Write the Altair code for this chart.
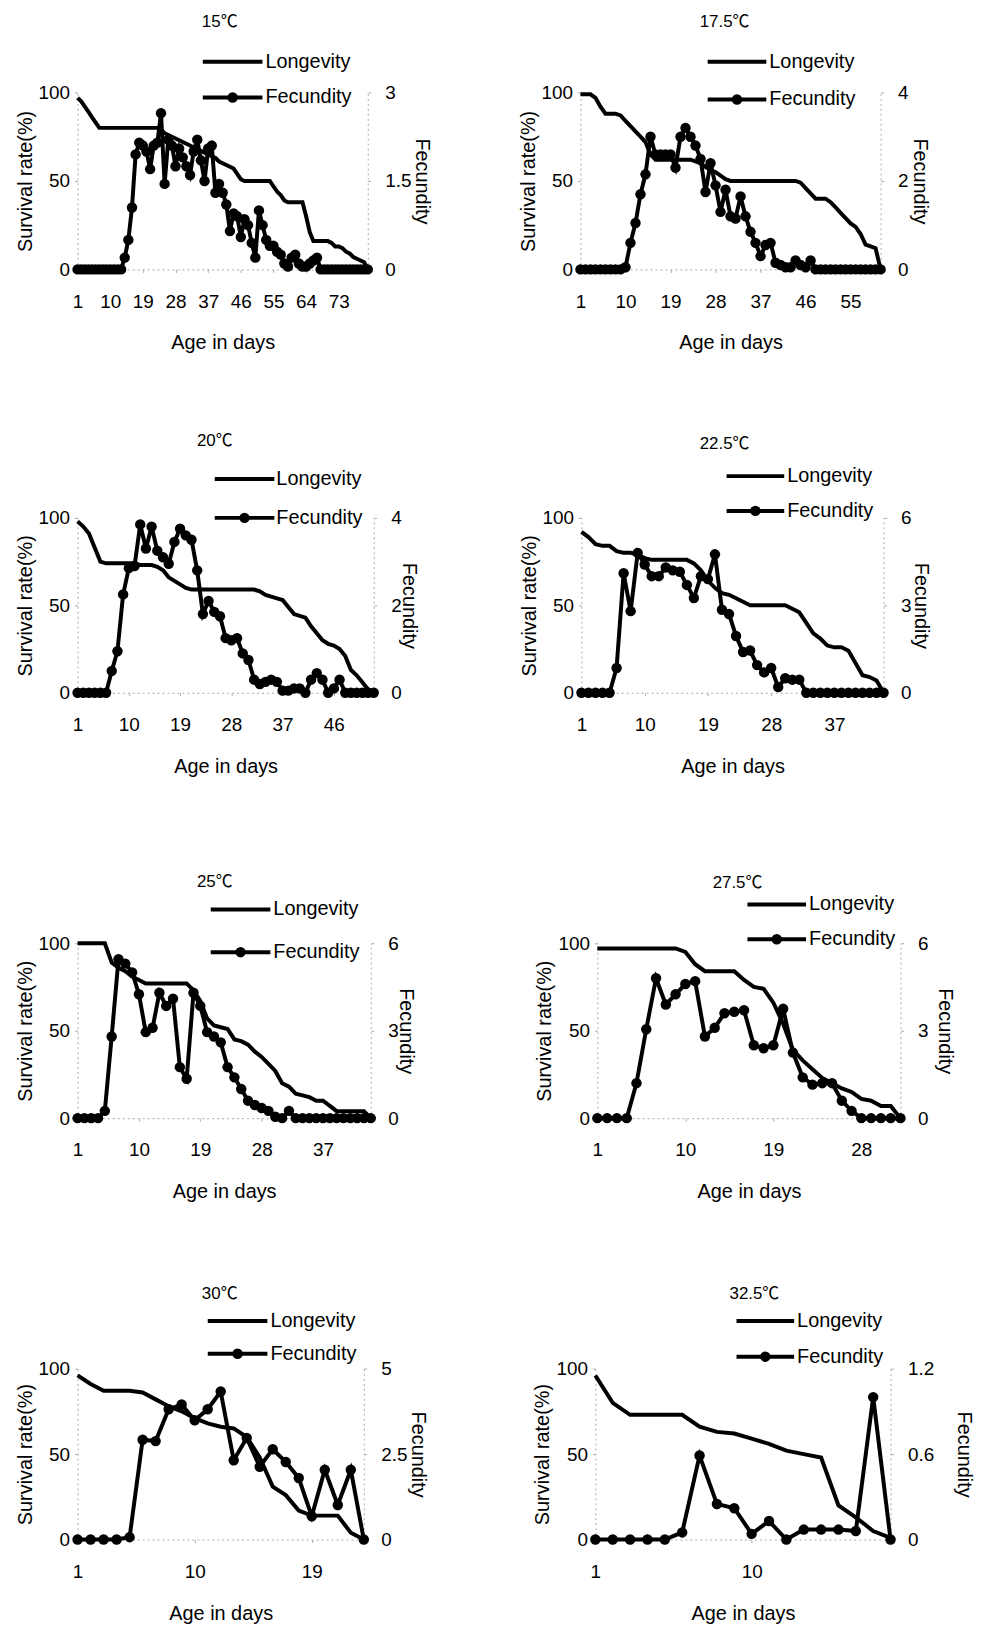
import altair as alt
import pandas as pd

FONT = "Liberation Sans, Arial, Noto Sans CJK SC, sans-serif"

titles = ["15℃", "17.5℃", "20℃", "22.5℃", "25℃", "27.5℃", "30℃", "32.5℃"]

# ---- survival rate (%) per day ----
long_15 = [97, 95, 92, 89, 86, 83, 80,
           80, 80, 80, 80, 80, 80, 80, 80, 80, 80, 80, 80, 80, 80, 80, 80,
           79, 77, 76, 75, 74, 73, 72, 71, 70, 69, 68, 67, 66, 65, 64, 63,
           61, 60, 59, 58, 57, 54, 51, 50, 50, 50, 50, 50, 50, 50, 50,
           47, 44, 42, 39, 38, 38, 38, 38, 38,
           30, 21, 16, 16, 16, 16, 16, 15, 13, 13, 12, 10, 9, 7, 6, 5, 4, 0]
fec_15 = [0, 0, 0, 0, 0, 0, 0, 0, 0, 0, 0, 0, 0,
          0.2, 0.5, 1.05, 1.95, 2.15, 2.1, 2.0, 1.7, 2.1, 2.15, 2.65, 1.45, 2.2, 2.1,
          1.75, 2.05, 1.9, 1.75, 1.6, 2.0, 2.2, 1.85, 1.5, 2.05, 2.1, 1.3, 1.45, 1.3,
          1.1, 0.65, 0.95, 0.9, 0.55, 0.85, 0.75, 0.45, 0.2, 1.0, 0.75, 0.5, 0.4, 0.4,
          0.3, 0.25, 0.1, 0.05, 0.2, 0.25, 0.1, 0.05, 0.05, 0.1, 0.15, 0.2,
          0, 0, 0, 0, 0, 0, 0, 0, 0, 0, 0, 0, 0, 0]

long_175 = [99, 99, 99, 97, 92, 88, 88, 88, 87, 84, 81, 78, 75, 72, 65, 62,
            62, 62, 62, 62, 62, 62, 62,
            61, 60, 58, 56, 55, 53, 51,
            50, 50, 50, 50, 50, 50, 50, 50, 50, 50, 50, 50, 50, 50,
            49, 46, 43, 40, 40, 40, 38, 35, 32, 29, 26, 24, 20, 14, 13, 12, 0]
fec_175 = [0, 0, 0, 0, 0, 0, 0, 0, 0,
           0.05, 0.6, 1.05, 1.7, 2.15, 3.0, 2.6, 2.6, 2.6, 2.6, 2.3, 3.0, 3.2, 3.0,
           2.8, 2.5, 1.75, 2.4, 1.9, 1.3, 1.8, 1.2, 1.15, 1.65, 1.2, 0.85, 0.6, 0.3,
           0.55, 0.6, 0.15, 0.1, 0.05, 0.05, 0.2, 0.1, 0.05, 0.2,
           0, 0, 0, 0, 0, 0, 0, 0, 0, 0, 0, 0, 0, 0]

long_20 = [98, 95, 91, 83, 75, 74, 74, 74, 74, 74, 74, 73, 73, 73, 72, 70, 66, 64, 62, 60, 59,
           59, 59, 59, 59, 59, 59, 59, 59, 59, 59, 59,
           58, 56, 55, 54, 53, 49, 45, 44, 43, 38, 34, 30, 28, 27, 25, 21, 13, 10, 6, 2, 0]
fec_20 = [0, 0, 0, 0, 0, 0,
          0.5, 0.95, 2.25, 2.85, 2.9, 3.85, 3.3, 3.8, 3.25, 3.1, 2.95, 3.45, 3.75, 3.6,
          3.5, 2.8, 1.8, 2.1, 1.85, 1.75, 1.25, 1.2, 1.25, 0.9, 0.75, 0.3, 0.2, 0.25,
          0.3, 0.25, 0.05, 0.05, 0.1, 0.1, 0, 0.3, 0.45, 0.3, 0, 0.1, 0.3, 0,
          0, 0, 0, 0, 0]

long_225 = [92, 89, 85, 84, 84, 81, 80, 80, 79, 77,
            76, 76, 76, 76, 76, 76,
            74, 70, 64, 60, 57, 56, 54, 52, 50,
            50, 50, 50, 50, 50,
            48, 46, 40, 34, 31, 27, 26, 26, 24, 17, 10, 9, 7, 0]
fec_225 = [0, 0, 0, 0, 0,
           0.85, 4.1, 2.8, 4.8, 4.4, 4.0, 4.0, 4.3, 4.2, 4.15, 3.7, 3.25, 4.0, 3.9,
           4.75, 2.85, 2.7, 1.95, 1.4, 1.45, 0.95, 0.7, 0.85, 0.2, 0.5, 0.45, 0.45,
           0, 0, 0, 0, 0, 0, 0, 0, 0, 0, 0, 0]

long_25 = [100, 100, 100, 100, 100, 89, 86, 84, 81, 79,
           77, 77, 77, 77, 77, 77, 77,
           73, 67, 57, 53, 52, 51, 45, 44, 42, 38, 35, 31, 27, 20, 18, 14, 13, 12, 10, 10, 7, 4,
           4, 4, 4, 4, 0]
fec_25 = [0, 0, 0, 0,
          0.25, 2.8, 5.45, 5.3, 5.0, 4.25, 2.95, 3.1, 4.3, 3.85, 4.1, 1.75, 1.35, 4.3,
          3.85, 2.95, 2.8, 2.6, 1.75, 1.4, 1.0, 0.6, 0.45, 0.35, 0.25, 0.05, 0, 0.25,
          0, 0, 0, 0, 0, 0, 0, 0, 0, 0, 0, 0]

long_275 = [97, 97, 97, 97, 97, 97, 97, 97, 97,
            95, 88, 84, 84, 84, 84, 79, 75, 74, 66, 54, 39, 33, 28, 23, 20, 17, 15, 11, 10, 7, 7, 0]
fec_275 = [0, 0, 0, 0,
           1.2, 3.05, 4.8, 3.9, 4.25, 4.6, 4.7, 2.8, 3.1, 3.6, 3.65, 3.7, 2.5, 2.4, 2.5,
           3.75, 2.25, 1.4, 1.15, 1.2, 1.2, 0.6, 0.25,
           0, 0, 0, 0, 0]

long_30 = [96, 91, 87, 87, 87, 86, 82, 78, 75, 71, 68, 66, 65, 60, 48, 31, 26, 17, 14, 14, 14, 4, 0]
fec_30 = [0, 0, 0, 0, 0.07, 2.92, 2.88, 3.81, 3.95, 3.49, 3.81, 4.33, 2.32, 2.97, 2.13,
          2.64, 2.27, 1.8, 0.68, 2.04, 1.01, 2.04, 0]

long_325 = [96, 80, 73, 73, 73, 73, 66, 63, 62, 59, 56, 52, 50, 48, 20, 13, 5, 1]
fec_325 = [0, 0, 0, 0, 0, 0.05, 0.59, 0.25, 0.22, 0.04, 0.13, 0, 0.07, 0.07, 0.07, 0.06, 1.0, 0]

longevity = [long_15, long_175, long_20, long_225, long_25, long_275, long_30, long_325]
fecundity = [fec_15, fec_175, fec_20, fec_225, fec_25, fec_275, fec_30, fec_325]

x_ticks = [[1, 10, 19, 28, 37, 46, 55, 64, 73],
           [1, 10, 19, 28, 37, 46, 55],
           [1, 10, 19, 28, 37, 46],
           [1, 10, 19, 28, 37],
           [1, 10, 19, 28, 37],
           [1, 10, 19, 28],
           [1, 10, 19],
           [1, 10]]
surv_ticks = [0, 50, 100]
fec_max = [3, 4, 4, 6, 6, 6, 5, 1.2]
fec_ticks = [[0, 1.5, 3], [0, 2, 4], [0, 2, 4], [0, 3, 6],
             [0, 3, 6], [0, 3, 6], [0, 2.5, 5], [0, 0.6, 1.2]]

# ---- styles / placement (pixels, relative to each plot area) ----
layout = [
    dict(w=292, h=178, tx=143, ty=-71, lx1=126, lx2=186, ltx=189, ly1=-31, ly2=5, rtp=1),
    dict(w=302, h=178, tx=145, ty=-71, lx1=128, lx2=187, ltx=190, ly1=-31, ly2=7, rtp=2),
    dict(w=298, h=176, tx=138, ty=-77, lx1=138, lx2=198, ltx=200, ly1=-39, ly2=0, rtp=-3),
    dict(w=304, h=176, tx=144, ty=-74, lx1=146, lx2=204, ltx=207, ly1=-42, ly2=-7, rtp=0),
    dict(w=295, h=176, tx=138, ty=-62, lx1=134, lx2=194, ltx=197, ly1=-34, ly2=9, rtp=-3),
    dict(w=305, h=176, tx=141, ty=-61, lx1=151, lx2=210, ltx=213, ly1=-39, ly2=-4, rtp=7),
    dict(w=288, h=172, tx=143, ty=-75, lx1=131, lx2=191, ltx=194, ly1=-48, ly2=-15, rtp=1),
    dict(w=297, h=172, tx=160, ty=-75, lx1=142, lx2=200, ltx=203, ly1=-48, ly2=-12, rtp=20),
]
row_spacing = [214, 209, 228, 233]
row_pitch = 428

LW = 4
PT = 110


def make_panel(i):
    L = layout[i]
    n = min(len(longevity[i]), len(fecundity[i]))
    df = pd.DataFrame({
        "day": list(range(1, n + 1)),
        "surv": longevity[i][:n],
        "fec": fecundity[i][:n],
    })
    x = alt.X("day:Q",
              scale=alt.Scale(domain=[1, n], nice=False, zero=False),
              axis=alt.Axis(values=x_ticks[i], title="Age in days",
                            labelFlush=False, format="d", labelOverlap=False))
    base = alt.Chart(df)
    lon = base.mark_line(color="black", strokeWidth=LW).encode(
        x=x,
        y=alt.Y("surv:Q", scale=alt.Scale(domain=[0, 100], nice=False),
                axis=alt.Axis(values=surv_ticks, title="Survival rate(%)",
                              orient="left")),
    )
    fec = base.mark_line(
        color="black", strokeWidth=LW,
        point=alt.OverlayMarkDef(filled=True, color="black", size=PT, opacity=1),
    ).encode(
        x=x,
        y=alt.Y("fec:Q", scale=alt.Scale(domain=[0, fec_max[i]], nice=False),
                axis=alt.Axis(values=fec_ticks[i], title="Fecundity",
                              orient="right", format=".2~g",
                              titlePadding=L["rtp"])),
    )
    a = alt.Chart(pd.DataFrame({"k": [0]}))
    l1 = a.mark_rule(color="black", strokeWidth=LW).encode(
        x=alt.value(L["lx1"]), x2=alt.value(L["lx2"]), y=alt.value(L["ly1"]))
    l2 = a.mark_rule(color="black", strokeWidth=LW).encode(
        x=alt.value(L["lx1"]), x2=alt.value(L["lx2"]), y=alt.value(L["ly2"]))
    p2 = a.mark_point(filled=True, color="black", size=PT, opacity=1).encode(
        x=alt.value((L["lx1"] + L["lx2"]) / 2), y=alt.value(L["ly2"]))
    t1 = a.mark_text(align="left", baseline="middle", font=FONT, fontSize=20,
                     color="black").encode(
        x=alt.value(L["ltx"]), y=alt.value(L["ly1"]), text=alt.value("Longevity"))
    t2 = a.mark_text(align="left", baseline="middle", font=FONT, fontSize=20,
                     color="black").encode(
        x=alt.value(L["ltx"]), y=alt.value(L["ly2"]), text=alt.value("Fecundity"))
    tt = a.mark_text(align="center", baseline="middle", font=FONT, fontSize=17,
                     color="black").encode(
        x=alt.value(L["tx"]), y=alt.value(L["ty"]), text=alt.value(titles[i]))
    return alt.layer(lon, fec, l1, t1, l2, p2, t2, tt).resolve_scale(
        y="independent").properties(width=L["w"], height=L["h"])


panels = [make_panel(i) for i in range(8)]
rows = [alt.hconcat(panels[2 * r], panels[2 * r + 1], spacing=row_spacing[r],
                    bounds="flush") for r in range(4)]

chart = alt.vconcat(*rows, spacing=row_pitch, bounds="flush").properties(
    background="white",
    padding={"left": 7, "top": 0, "right": 5, "bottom": 5},
).configure_view(stroke=None).configure_axis(
    labelFont=FONT, titleFont=FONT, labelFontSize=19, titleFontSize=20,
    titleFontWeight="normal", labelColor="black", titleColor="black",
    grid=False, domainColor="#aaaaaa", domainDash=[2, 3], domainWidth=1,
    tickColor="#aaaaaa", tickSize=3,
).configure_axisLeft(labelPadding=5, titlePadding=3).configure_axisRight(
    labelPadding=14
).configure_axisBottom(labelPadding=20, titlePadding=22)

chart.save("out.html", embed_options={"renderer": "svg", "actions": False})
